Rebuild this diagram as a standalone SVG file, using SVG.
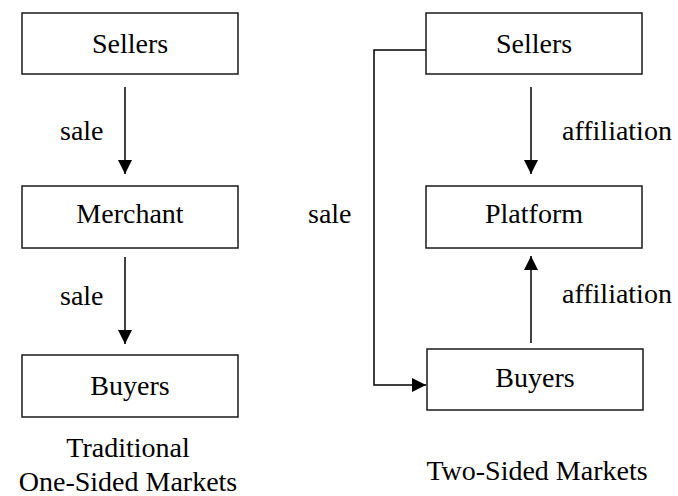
<svg xmlns="http://www.w3.org/2000/svg" width="678" height="496" viewBox="0 0 678 496">
  <defs>
    <marker id="arrow" markerWidth="14" markerHeight="14" refX="14" refY="7" orient="auto" markerUnits="userSpaceOnUse">
      <path d="M0,0 L14,7 L0,14 Z" fill="#000"/>
    </marker>
  </defs>
  <rect width="678" height="496" fill="#ffffff"/>

  <!-- Boxes share one outline look, set on the group -->
  <g fill="#ffffff" stroke="#1a1a1a" stroke-width="1.5">
    <!-- One-sided market: Sellers -> Merchant -> Buyers -->
    <g id="left-sellers"><rect x="22" y="13" width="216" height="61"/></g>
    <g id="left-merchant"><rect x="22" y="186" width="216" height="62"/></g>
    <g id="left-buyers"><rect x="22" y="355" width="216" height="62"/></g>
    <!-- Two-sided market: Sellers and Buyers both join the Platform -->
    <g id="right-sellers"><rect x="426" y="13" width="216" height="61"/></g>
    <g id="right-platform"><rect x="426" y="186" width="216" height="62"/></g>
    <g id="right-buyers"><rect x="427" y="349" width="216" height="61"/></g>
  </g>

  <g id="connectors" fill="none" stroke="#000" stroke-width="1.5">
    <line x1="125" y1="87" x2="125" y2="174" marker-end="url(#arrow)"/>
    <line x1="125" y1="257" x2="125" y2="344" marker-end="url(#arrow)"/>
    <line x1="531" y1="87" x2="531" y2="174" marker-end="url(#arrow)"/>
    <line x1="531" y1="343" x2="531" y2="256" marker-end="url(#arrow)"/>
    <polyline points="426,50 374,50 374,385 426,385" marker-end="url(#arrow)"/>
  </g>

  <g id="labels" font-family="Liberation Serif" font-size="28" fill="#000">
    <text x="130" y="53" text-anchor="middle">Sellers</text>
    <text x="130" y="223" text-anchor="middle">Merchant</text>
    <text x="130" y="395" text-anchor="middle">Buyers</text>
    <text x="534" y="53" text-anchor="middle">Sellers</text>
    <text x="534" y="223" text-anchor="middle">Platform</text>
    <text x="535" y="387" text-anchor="middle">Buyers</text>
    <text x="60" y="140">sale</text>
    <text x="60" y="305">sale</text>
    <text x="308" y="223">sale</text>
    <text x="562" y="140">affiliation</text>
    <text x="562" y="303">affiliation</text>
    <text x="128" y="457" text-anchor="middle">Traditional</text>
    <text x="128" y="491" text-anchor="middle">One-Sided Markets</text>
    <text x="537" y="480" text-anchor="middle">Two-Sided Markets</text>
  </g>
</svg>
